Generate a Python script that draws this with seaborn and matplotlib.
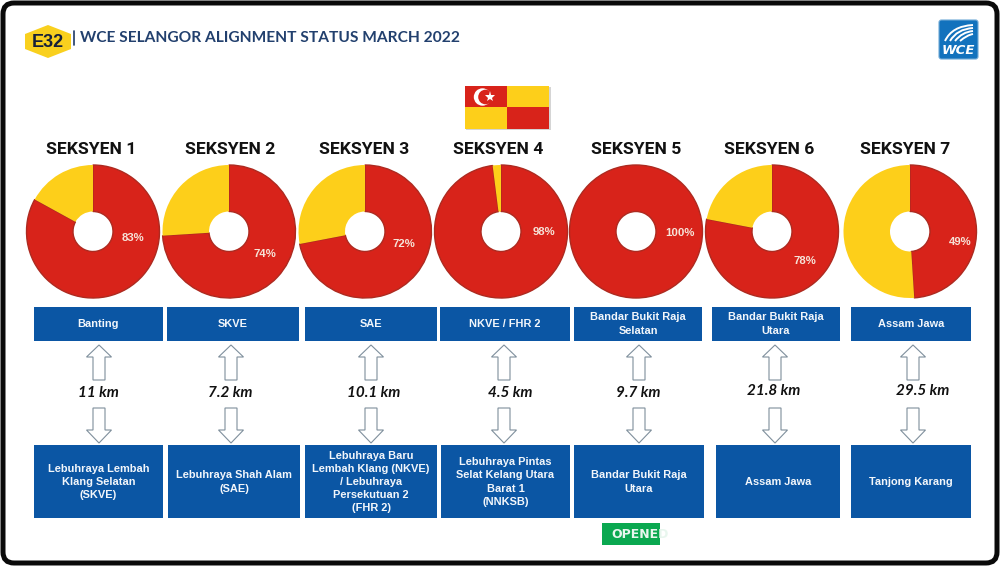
import numpy as np
import matplotlib
matplotlib.use("Agg")
import matplotlib.pyplot as plt
from matplotlib.patches import Rectangle, FancyBboxPatch, Polygon, Circle, PathPatch
from matplotlib.path import Path
import seaborn as sns

sections = ["SEKSYEN 1", "SEKSYEN 2", "SEKSYEN 3", "SEKSYEN 4", "SEKSYEN 5", "SEKSYEN 6", "SEKSYEN 7"]
percent_done = [83, 74, 72, 98, 100, 78, 49]
from_labels = ["Banting", "SKVE", "SAE", "NKVE / FHR 2", "Bandar Bukit Raja\nSelatan",
               "Bandar Bukit Raja\nUtara", "Assam Jawa"]
to_labels = ["Lebuhraya Lembah\nKlang Selatan\n(SKVE)", "Lebuhraya Shah Alam\n(SAE)",
             "Lebuhraya Baru\nLembah Klang (NKVE)\n/ Lebuhraya\nPersekutuan 2\n(FHR 2)",
             "Lebuhraya Pintas\nSelat Kelang Utara\nBarat 1\n(NNKSB)", "Bandar Bukit Raja\nUtara",
             "Assam Jawa", "Tanjong Karang"]
distances = ["11 km", "7.2 km", "10.1 km", "4.5 km", "9.7 km", "21.8 km", "29.5 km"]

pie_x = [93, 229, 365, 501, 636, 772, 910]
title_x = [91, 230, 364, 498, 636, 769, 905]
pct_xy = [(133, 238), (265, 254), (404, 244), (544, 232), (680, 233), (805, 261), (960, 242)]
top_boxes = [(34, 163), (167, 299), (305, 437), (440, 570), (574, 702), (712, 840), (851, 971)]
bot_boxes = [(34, 163), (168, 300), (305, 437), (441, 570), (574, 704), (716, 840), (851, 971)]
arrow_x = [99, 231, 371, 504, 639, 775, 913]
dist_xy = [(98, 393), (230, 393), (374, 393), (510, 393), (638, 393), (774, 391), (923, 391)]

RED, YEL, BLUE = "#d8231a", "#fdcf1a", "#0b56a4"
sns.set_theme(style="white")
fig = plt.figure(figsize=(10, 5.66), dpi=100, facecolor="white")
ax = fig.add_axes([0, 0, 1, 1])
H = 566
Y = lambda y: H - y

for i, p in enumerate(percent_done):
    vals = [p, 100 - p] if p < 100 else [100]
    cols = [RED, YEL] if p < 100 else [RED]
    wedges, _ = ax.pie(vals, colors=cols, startangle=90, counterclock=False, center=(pie_x[i], Y(231.5)),
                       radius=66.5, wedgeprops=dict(width=46.5, linewidth=0))
    wedges[0].set_edgecolor("#ad2a20")
    wedges[0].set_linewidth(1.0)
    if p < 100:
        wedges[1].set_zorder(wedges[0].get_zorder() + 0.1)
    ax.text(title_x[i], Y(149), sections[i], ha="center", va="center", fontsize=12.6,
            fontweight="bold", family="Roboto", color="#111111", zorder=5)
    ax.text(pct_xy[i][0], Y(pct_xy[i][1]), f"{p}%", ha="center", va="center", fontsize=8.2,
            fontweight="bold", family="Liberation Sans", color="#f6e3d8", zorder=5)
    x0, x1 = top_boxes[i]
    ax.add_patch(Rectangle((x0, Y(341)), x1 - x0, 34, fc=BLUE, ec="none"))
    ax.text((x0 + x1) / 2, Y(324), from_labels[i], ha="center", va="center", fontsize=7.9, fontweight="bold",
            family="Liberation Sans", color="#f2f6fb", linespacing=1.4)
    x0, x1 = bot_boxes[i]
    ax.add_patch(Rectangle((x0, Y(518)), x1 - x0, 73, fc=BLUE, ec="none"))
    ax.text((x0 + x1) / 2, Y(482), to_labels[i], ha="center", va="center", fontsize=7.9, fontweight="bold",
            family="Liberation Sans", color="#f2f6fb", linespacing=1.4)
    ax_ = arrow_x[i]
    ec = "#7f8f9c"
    ax.add_patch(Polygon([(ax_, Y(345)), (ax_ + 12.5, Y(357)), (ax_ + 6, Y(357)), (ax_ + 6, Y(380)),
                          (ax_ - 6, Y(380)), (ax_ - 6, Y(357)), (ax_ - 12.5, Y(357))],
                         closed=True, fc="white", ec=ec, lw=0.8))
    ax.add_patch(Polygon([(ax_, Y(443)), (ax_ + 12.5, Y(430)), (ax_ + 6, Y(430)), (ax_ + 6, Y(408)),
                          (ax_ - 6, Y(408)), (ax_ - 6, Y(430)), (ax_ - 12.5, Y(430))],
                         closed=True, fc="white", ec=ec, lw=0.8))
    ax.text(dist_xy[i][0], Y(dist_xy[i][1]), distances[i], ha="center", va="center", fontsize=11,
            style="italic", fontweight="bold", family="Lato", color="#111111")

# header
ax.add_patch(Polygon([(25, Y(34)), (48, Y(25)), (71, Y(34)), (71, Y(49)), (48, Y(58)), (25, Y(49))],
                     closed=True, fc="#f9d01e", ec="none"))
ax.text(48, Y(42.5), "E32", ha="center", va="center", fontsize=13, fontweight="bold",
        family="Liberation Sans", color="#16203a")
ax.plot([74, 74], [Y(31), Y(45)], color="#1f3a66", lw=1.2)
ax.text(80, Y(38.5), "WCE SELANGOR ALIGNMENT STATUS MARCH 2022", ha="left", va="center", fontsize=11.2,
        fontweight="bold", family="Lato", color="#22406e")

# flag
ax.add_patch(Rectangle((466, Y(129.5)), 84.5, 43, fc="#d5d5d5", ec="none"))
ax.add_patch(Rectangle((465, Y(107)), 42, 21, fc=RED, ec="none"))
ax.add_patch(Rectangle((507, Y(107)), 42, 21, fc=YEL, ec="none"))
ax.add_patch(Rectangle((465, Y(128.5)), 42, 21.5, fc=YEL, ec="none"))
ax.add_patch(Rectangle((507, Y(128.5)), 42, 21.5, fc=RED, ec="none"))
ax.add_patch(Circle((482.5, Y(97)), 8.7, fc="white", ec="none"))
ax.add_patch(Circle((485.5, Y(97)), 7.3, fc=RED, ec="none"))
ax.plot([490], [Y(97)], marker="*", ms=8, color="white", mew=0)

# logo
ax.add_patch(FancyBboxPatch((939, Y(59)), 39, 39, boxstyle="round,pad=0,rounding_size=2.5", fc="#1272bd",
                            ec="#6fa9d6", lw=0.8))
for sx, sy, ex, ey in [(945, 41, 973, 25), (950, 41, 973, 28), (955, 41, 973, 31), (960, 41, 973, 34)]:
    ax.add_patch(PathPatch(Path([(sx, Y(sy)), (sx + 7, Y(ey + 1)), (ex, Y(ey))],
                               [Path.MOVETO, Path.CURVE3, Path.CURVE3]), fc="none", ec="white", lw=1.4))
ax.text(958.5, Y(51), "WCE", ha="center", va="center", fontsize=9.5, fontweight="bold", style="italic",
        family="DejaVu Sans", color="white")

# opened tag
tag = Rectangle((602, Y(545)), 58, 22, fc="#0aa850", ec="none")
ax.add_patch(tag)
t = ax.text(611, Y(534.5), "OPENED", ha="left", va="center", fontsize=9, fontweight="bold",
            family="DejaVu Sans", color="#e8f6ee")
t.set_clip_path(tag)

# frame
ax.add_patch(FancyBboxPatch((3, 3), 994, 560, boxstyle="round,pad=0,rounding_size=11", fc="none",
                            ec="#0a0a0a", lw=3.6))

ax.set_xlim(0, 1000)
ax.set_ylim(0, H)
ax.set_aspect("auto")
ax.axis("off")
fig.savefig("out.png", dpi=100)
